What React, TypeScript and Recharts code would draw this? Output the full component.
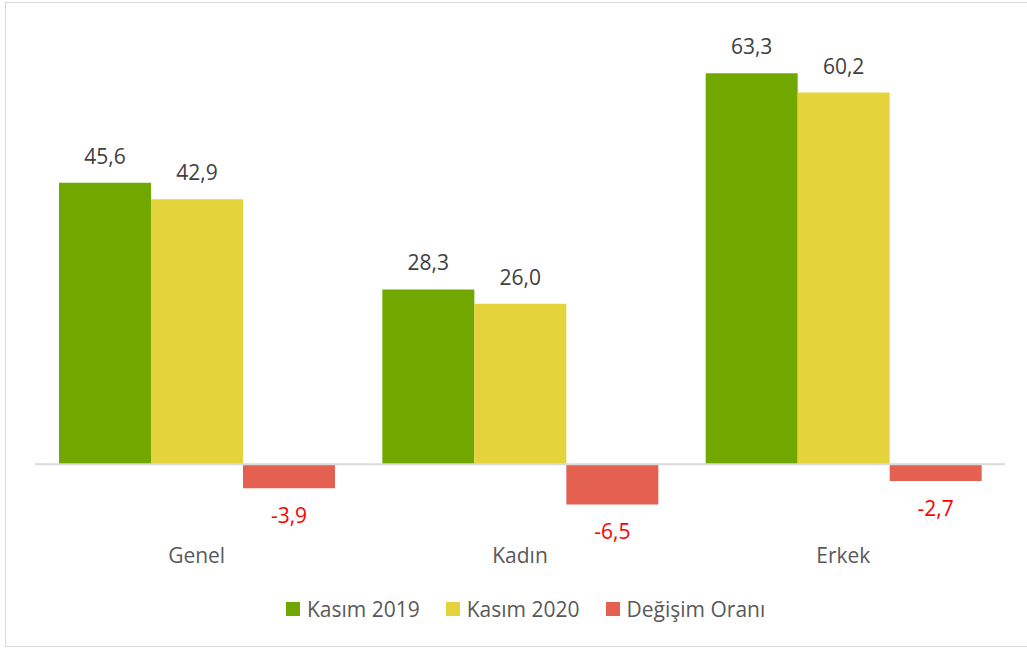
import { BarChart, Bar, XAxis, YAxis, ReferenceLine, LabelList } from 'recharts';

const categories = ['Genel', 'Kadın', 'Erkek'];
const kasim2019 = [45.6, 28.3, 63.3];
const kasim2020 = [42.9, 26.0, 60.2];
const degisim = [-3.9, -6.5, -2.7];

const series = [
  { key: 'k2019', name: 'Kasım 2019', color: '#70a800' },
  { key: 'k2020', name: 'Kasım 2020', color: '#e5d33b' },
  { key: 'degisim', name: 'Değişim Oranı', color: '#e46050' },
];

const data = categories.map((name, i) => ({
  name,
  k2019: kasim2019[i],
  k2020: kasim2020[i],
  degisim: degisim[i],
}));

const FONT = '"Open Sans", sans-serif';

const fmt = (v: number) => v.toFixed(1).replace('.', ',');

// labels above positive bars, below negative ones (in red)
const ValueLabel = (props: any) => {
  const { x, y, width, height, value } = props;
  const top = Math.min(y, y + height);
  const bottom = Math.max(y, y + height);
  const neg = value < 0;
  return (
    <text
      x={x + width / 2}
      y={neg ? bottom + 35 : top - 19}
      textAnchor="middle"
      fontFamily={FONT}
      fontSize={21}
      fill={neg ? '#ff0000' : '#404040'}
    >
      {fmt(value)}
    </text>
  );
};

const CategoryTick = (props: any) => {
  const { x, y, payload } = props;
  return (
    <text x={x} y={y} dy={29} textAnchor="middle" fontFamily={FONT} fontSize={21} fill="#595959">
      {payload.value}
    </text>
  );
};

export default function App() {
  return (
    <div style={{ position: 'absolute', left: 0, top: 0, width: 1027, height: 648, background: '#fff' }}>
      <div
        style={{
          position: 'absolute',
          left: 5,
          top: 2,
          width: 1040,
          height: 643,
          border: '1px solid #d9d9d9',
        }}
      />
      <BarChart
        width={1027}
        height={648}
        data={data}
        margin={{ top: 32, right: 22, left: 35, bottom: 62 }}
        barGap={0}
        barSize={92}
      >
        <XAxis dataKey="name" axisLine={false} tickLine={false} height={60} tick={<CategoryTick />} />
        <YAxis hide domain={[-10, 70]} />
        <ReferenceLine y={0} stroke="#d9d9d9" strokeWidth={2} />
        {series.map((s) => (
          <Bar key={s.key} dataKey={s.key} name={s.name} fill={s.color} isAnimationActive={false}>
            <LabelList dataKey={s.key} content={<ValueLabel />} />
          </Bar>
        ))}
      </BarChart>
      <div
        style={{
          position: 'absolute',
          left: 286,
          top: 595,
          display: 'flex',
          alignItems: 'center',
          fontFamily: FONT,
          fontSize: 21,
          color: '#595959',
          whiteSpace: 'nowrap',
        }}
      >
        {series.map((s) => (
          <div key={s.key} style={{ display: 'flex', alignItems: 'center', marginRight: 26 }}>
            <span style={{ width: 14, height: 14, background: s.color, display: 'inline-block', marginRight: 7 }} />
            <span>{s.name}</span>
          </div>
        ))}
      </div>
    </div>
  );
}
